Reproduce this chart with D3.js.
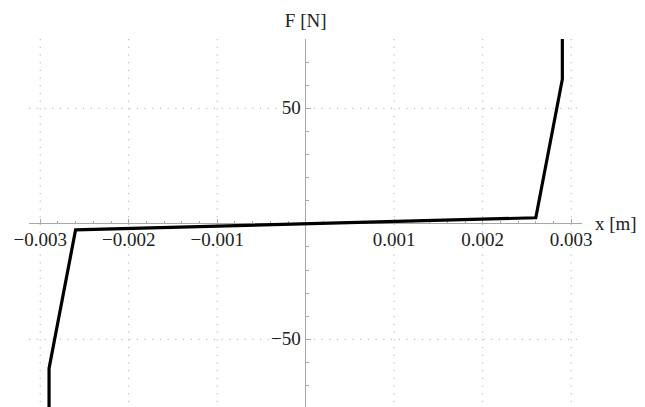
<!DOCTYPE html>
<html><head><meta charset="utf-8">
<script src="https://cdn.jsdelivr.net/npm/d3@7"></script>
<style>body{margin:0;background:#fff;} svg{display:block;}</style>
</head><body>
<svg id="c" width="645" height="407"></svg>
<script>
const xs = [-0.0029, -0.0029, -0.0026, 0.0026, 0.0029, 0.0029];
const Fs = [-82, -62.6, -2.6, 2.6, 62.6, 80];
const xMajor = [-0.003, -0.002, -0.001, 0.001, 0.002, 0.003];
const xMajorLabels = ["\u22120.003", "\u22120.002", "\u22120.001", "0.001", "0.002", "0.003"];
const yMajor = [-50, 50];
const yMajorLabels = ["\u221250", "50"];

(function () {
const svg = d3.select("#c");
const x = d3.scaleLinear().domain([-0.003, 0.003]).range([40.2, 571.2]);
const y = d3.scaleLinear().domain([-50, 50]).range([339.3, 108.3]);
const X0 = x(0), Y0 = y(0);
const pLeft = 29, pRight = 582, pTop = 39, pBottom = 410;
const font = "'Liberation Serif', 'Times New Roman', serif";

// grid
const g = svg.append("g").attr("stroke", "#b0b0b0").attr("stroke-width", 1).attr("stroke-dasharray", "1.2,6.5");
xMajor.forEach(v => g.append("line").attr("x1", x(v)).attr("x2", x(v)).attr("y1", pTop).attr("y2", pBottom));
yMajor.forEach(v => g.append("line").attr("x1", pLeft).attr("x2", pRight).attr("y1", y(v)).attr("y2", y(v)));

// axes
const ax = svg.append("g").attr("stroke", "#a8a8a8").attr("stroke-width", 1).attr("shape-rendering", "crispEdges");
ax.append("line").attr("x1", pLeft).attr("x2", pRight).attr("y1", Y0).attr("y2", Y0);
ax.append("line").attr("x1", X0).attr("x2", X0).attr("y1", pTop).attr("y2", pBottom);
const xMinor = d3.range(-30, 31).map(i => i * 0.0002).filter(v => Math.abs(v) > 1e-9 && x(v) >= pLeft && x(v) <= pRight);
xMinor.forEach(v => {
  const isMaj = Math.abs(Math.round(v * 1000) - v * 1000) < 1e-6;
  ax.append("line").attr("x1", x(v)).attr("x2", x(v)).attr("y1", Y0).attr("y2", Y0 - (isMaj ? 5 : 3));
});
const yMinor = d3.range(-8, 9).map(i => i * 10).filter(v => v !== 0 && y(v) >= pTop && y(v) <= pBottom);
yMinor.forEach(v => {
  const isMaj = v % 50 === 0;
  ax.append("line").attr("x1", X0).attr("x2", X0 + (isMaj ? 5 : 3)).attr("y1", y(v)).attr("y2", y(v));
});

// labels
const lab = svg.append("g").attr("font-family", font).attr("font-size", 19).attr("fill", "#222");
xMajor.forEach((v, i) => lab.append("text").attr("x", x(v)).attr("y", 246).attr("text-anchor", "middle").text(xMajorLabels[i]));
yMajor.forEach((v, i) => lab.append("text").attr("x", X0 - 5).attr("y", y(v) + 6).attr("text-anchor", "end").text(yMajorLabels[i]));
lab.append("text").attr("x", 595).attr("y", 230).text("x [m]");
lab.append("text").attr("x", X0).attr("y", 27).attr("text-anchor", "middle").text("F [N]");

// curve
svg.append("path")
  .datum(xs.map((v, i) => [v, Fs[i]]))
  .attr("fill", "none").attr("stroke", "#000").attr("stroke-width", 3.2).attr("stroke-linejoin", "miter")
  .attr("d", d3.line().x(d => x(d[0])).y(d => y(d[1])));
})();
</script>
</body></html>
